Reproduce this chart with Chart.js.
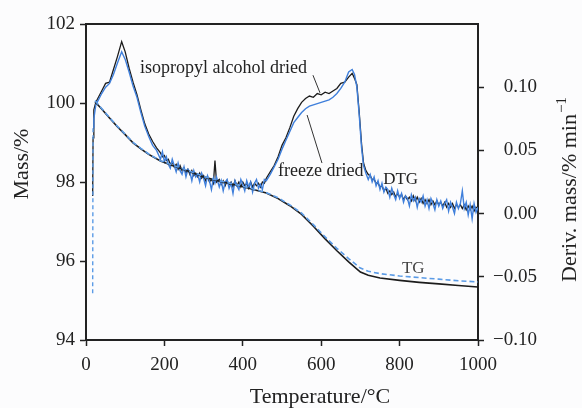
<!DOCTYPE html>
<html>
<head>
<meta charset="utf-8">
<script src="https://cdn.jsdelivr.net/npm/chart.js@4.4.1/dist/chart.umd.min.js"></script>
<style>
  html, body { margin: 0; padding: 0; background: #fcfcfd; }
  #chart { display: block; }
</style>
</head>
<body>
<canvas id="chart" width="582" height="408"></canvas>
<script>
const tempTicks = [0, 200, 400, 600, 800, 1000];
const massTicks = [94, 96, 98, 100, 102];
const derivTicks = [-0.10, -0.05, 0.00, 0.05, 0.10];

// TG curves (mass %)
const tgTemp = [23, 40, 60, 80, 100, 120, 140, 160, 190, 220, 260, 300, 340, 380, 420, 460, 490, 520, 550, 580, 610, 640, 670, 700, 720, 750, 800, 850, 900, 950, 1000];
const tgIpa = [100.03, 99.85, 99.62, 99.40, 99.20, 98.99, 98.84, 98.70, 98.53, 98.42, 98.28, 98.13, 98.02, 97.93, 97.83, 97.72, 97.58, 97.40, 97.18, 96.88, 96.56, 96.26, 95.98, 95.72, 95.64, 95.57, 95.51, 95.46, 95.42, 95.38, 95.34];
const tgFreeze = [100.06, 99.86, 99.63, 99.41, 99.21, 99.00, 98.85, 98.71, 98.54, 98.43, 98.29, 98.14, 98.03, 97.94, 97.84, 97.73, 97.60, 97.42, 97.21, 96.92, 96.61, 96.32, 96.06, 95.82, 95.74, 95.68, 95.62, 95.58, 95.54, 95.50, 95.47];

// DTG curves (% / min), noisy stretches read at 5 degree steps
const dtgTemp = [
  17, 18, 20, 25, 30, 40, 50, 60, 70, 80,
  91, 100, 110, 120, 130, 140, 150, 160, 170, 180,
  190, 195, 200, 205, 210, 215, 220, 225, 230, 235,
  240, 245, 250, 255, 260, 265, 270, 275, 280, 285,
  290, 295, 300, 305, 310, 315, 320, 325, 329, 333,
  340, 345, 350, 355, 360, 365, 370, 375, 380, 385,
  390, 395, 400, 405, 410, 415, 420, 425, 430, 435,
  440, 445, 450, 455, 460, 470, 480, 490, 500, 510,
  520, 530, 540, 550, 560, 570, 580, 590, 600, 610,
  620, 630, 640, 650, 660, 670, 679, 685, 691, 697,
  703, 708, 714, 720, 725, 730, 735, 740, 745, 750,
  755, 760, 765, 770, 775, 780, 785, 790, 795, 800,
  805, 810, 815, 820, 825, 830, 835, 840, 845, 850,
  855, 860, 865, 870, 875, 880, 885, 890, 895, 900,
  905, 910, 915, 920, 925, 930, 935, 940, 945, 950,
  955, 960, 965, 970, 975, 980, 985, 990, 995, 1000
];
const dtgIpa = [
  0.014, 0.060, 0.082, 0.088, 0.091, 0.097, 0.103, 0.104, 0.114, 0.124,
  0.136, 0.128, 0.115, 0.104, 0.094, 0.082, 0.071, 0.063, 0.057, 0.052,
  0.048, 0.045, 0.046, 0.042, 0.043, 0.039, 0.041, 0.037, 0.039, 0.035,
  0.038, 0.034, 0.036, 0.032, 0.035, 0.031, 0.034, 0.030, 0.032, 0.029,
  0.032, 0.028, 0.030, 0.026, 0.029, 0.025, 0.027, 0.024, 0.042, 0.025,
  0.027, 0.023, 0.026, 0.022, 0.026, 0.023, 0.025, 0.021, 0.026, 0.022,
  0.025, 0.021, 0.025, 0.022, 0.024, 0.020, 0.025, 0.021, 0.024, 0.022,
  0.024, 0.021, 0.025, 0.024, 0.028, 0.033, 0.038, 0.045, 0.054, 0.060,
  0.068, 0.077, 0.083, 0.088, 0.091, 0.093, 0.092, 0.095, 0.094, 0.096,
  0.095, 0.097, 0.099, 0.103, 0.104, 0.108, 0.111, 0.107, 0.102, 0.080,
  0.055, 0.040, 0.034, 0.031, 0.030, 0.027, 0.027, 0.024, 0.024, 0.021,
  0.022, 0.018, 0.020, 0.016, 0.018, 0.015, 0.017, 0.013, 0.016, 0.013,
  0.015, 0.011, 0.014, 0.011, 0.013, 0.010, 0.014, 0.010, 0.013, 0.009,
  0.012, 0.008, 0.011, 0.008, 0.011, 0.007, 0.010, 0.007, 0.010, 0.007,
  0.009, 0.006, 0.009, 0.005, 0.008, 0.005, 0.008, 0.004, 0.007, 0.005,
  0.007, 0.004, 0.007, 0.003, 0.006, 0.003, 0.006, 0.002, 0.005, 0.004
];
const dtgFreeze = [
  -0.063, 0.068, 0.075, 0.086, 0.089, 0.095, 0.100, 0.103, 0.110, 0.119,
  0.128, 0.122, 0.112, 0.101, 0.092, 0.080, 0.069, 0.061, 0.054, 0.050,
  0.043, 0.049, 0.041, 0.045, 0.039, 0.036, 0.043, 0.038, 0.033, 0.040,
  0.034, 0.031, 0.037, 0.029, 0.035, 0.033, 0.026, 0.034, 0.029, 0.031,
  0.025, 0.032, 0.028, 0.022, 0.030, 0.026, 0.019, 0.028, 0.024, 0.029,
  0.021, 0.026, 0.018, 0.025, 0.027, 0.020, 0.024, 0.016, 0.026, 0.022,
  0.019, 0.027, 0.023, 0.018, 0.026, 0.021, 0.025, 0.017, 0.024, 0.027,
  0.020, 0.023, 0.019, 0.027, 0.026, 0.031, 0.037, 0.043, 0.051, 0.058,
  0.065, 0.072, 0.076, 0.080, 0.083, 0.085, 0.086, 0.087, 0.088, 0.089,
  0.090, 0.092, 0.095, 0.099, 0.104, 0.112, 0.114, 0.110, 0.100, 0.078,
  0.052, 0.038, 0.032, 0.027, 0.031, 0.025, 0.029, 0.022, 0.026, 0.019,
  0.024, 0.017, 0.021, 0.019, 0.013, 0.020, 0.015, 0.011, 0.018, 0.012,
  0.016, 0.009, 0.014, 0.012, 0.006, 0.015, 0.010, 0.013, 0.005, 0.012,
  0.009, 0.014, 0.006, 0.011, 0.004, 0.012, 0.008, 0.003, 0.011, 0.006,
  0.010, 0.004, 0.008, 0.011, 0.002, 0.009, 0.005, 0.000, 0.009, 0.004,
  0.008, 0.018, 0.004, 0.009, -0.001, 0.007, -0.004, 0.008, 0.001, 0.005
];

const serif = "'Liberation Serif', 'DejaVu Serif', serif";
const ink = "#222";
const black = "#1c1c1c";
const blueTg = "#5b9be6";
const blueDtg = "#3f7fdb";

const points = (xs, ys) => xs.map((x, i) => ({ x, y: ys[i] }));

const fmtDeriv = (value) => {
  if (Math.abs(value) < 1e-9) return "0.00";
  return (value < 0 ? "\u2212" : "") + Math.abs(value).toFixed(2);
};

// frame top, right-axis labels, annotations and axis titles
const annotations = {
  id: "annotations",
  afterDatasetsDraw(chart) {
    const { ctx, chartArea, scales } = chart;
    const x = scales.x;
    const y = scales.y;
    const y2 = scales.y2;

    ctx.save();
    ctx.strokeStyle = ink;
    ctx.lineWidth = 2;
    ctx.beginPath();
    ctx.moveTo(chartArea.left - 1, chartArea.top);
    ctx.lineTo(chartArea.right + 1, chartArea.top);
    ctx.stroke();

    ctx.fillStyle = ink;
    ctx.font = `19px ${serif}`;
    ctx.textAlign = "right";
    ctx.textBaseline = "middle";
    derivTicks.forEach((value) => {
      ctx.fillText(fmtDeriv(value), chartArea.right + 59, y2.getPixelForValue(value));
    });

    ctx.lineWidth = 1;
    ctx.strokeStyle = "#333";
    ctx.beginPath();
    ctx.moveTo(x.getPixelForValue(579), y2.getPixelForValue(0.1095));
    ctx.lineTo(x.getPixelForValue(597), y2.getPixelForValue(0.0955));
    ctx.moveTo(x.getPixelForValue(564), y2.getPixelForValue(0.078));
    ctx.lineTo(x.getPixelForValue(602), y2.getPixelForValue(0.040));
    ctx.stroke();

    ctx.textAlign = "left";
    ctx.font = `18px ${serif}`;
    ctx.fillText("isopropyl alcohol dried", x.getPixelForValue(138), y2.getPixelForValue(0.115));
    ctx.fillText("freeze dried", x.getPixelForValue(490), y2.getPixelForValue(0.0337));
    ctx.font = `17px ${serif}`;
    ctx.fillText("DTG", x.getPixelForValue(758), y2.getPixelForValue(0.0266));
    ctx.fillStyle = "#444";
    ctx.fillText("TG", x.getPixelForValue(806), y.getPixelForValue(95.82));

    ctx.fillStyle = ink;
    ctx.font = `22px ${serif}`;
    ctx.textAlign = "center";
    ctx.fillText("Temperature/\u00b0C", chartArea.left + 234, 397);

    ctx.save();
    ctx.translate(22, 164);
    ctx.rotate(-Math.PI / 2);
    ctx.fillText("Mass/%", 0, 0);
    ctx.restore();

    ctx.save();
    ctx.translate(570, 190);
    ctx.rotate(-Math.PI / 2);
    const main = "Deriv. mass/% min";
    ctx.font = `22px ${serif}`;
    const mainW = ctx.measureText(main).width;
    ctx.font = `15px ${serif}`;
    const supW = ctx.measureText("\u22121").width;
    const start = -(mainW + supW) / 2;
    ctx.textAlign = "left";
    ctx.font = `22px ${serif}`;
    ctx.fillText(main, start, 0);
    ctx.font = `15px ${serif}`;
    ctx.fillText("\u22121", start + mainW + 1, -8);
    ctx.restore();

    ctx.restore();
  }
};

const axisGrid = {
  drawOnChartArea: false,
  drawTicks: true,
  tickLength: 6,
  tickWidth: 1.5,
  color: ink
};

new Chart(document.querySelector("#chart"), {
  type: "line",
  data: {
    datasets: [
      {
        label: "TG freeze dried",
        data: points(tgTemp, tgFreeze),
        yAxisID: "y",
        borderColor: blueTg,
        borderWidth: 1.6,
        borderDash: [5, 3]
      },
      {
        label: "TG isopropyl alcohol dried",
        data: points(tgTemp, tgIpa),
        yAxisID: "y",
        borderColor: black,
        borderWidth: 1.6
      },
      {
        label: "DTG freeze dried",
        data: points(dtgTemp, dtgFreeze),
        yAxisID: "y2",
        borderColor: blueDtg,
        borderWidth: 1.4,
        segment: {
          borderColor: (ctx) => (ctx.p0DataIndex === 0 ? blueTg : undefined),
          borderDash: (ctx) => (ctx.p0DataIndex === 0 ? [4, 3] : undefined)
        }
      },
      {
        label: "DTG isopropyl alcohol dried",
        data: points(dtgTemp, dtgIpa),
        yAxisID: "y2",
        borderColor: black,
        borderWidth: 1.3
      }
    ]
  },
  options: {
    responsive: false,
    animation: false,
    elements: {
      point: { radius: 0 },
      line: { tension: 0, fill: false }
    },
    layout: { padding: { top: 24, left: 0, right: 0, bottom: 0 } },
    plugins: {
      legend: { display: false },
      tooltip: { enabled: false }
    },
    scales: {
      x: {
        type: "linear",
        min: 0,
        max: 1000,
        afterBuildTicks: (scale) => { scale.ticks = tempTicks.map((value) => ({ value })); },
        ticks: { color: ink, font: { family: serif, size: 19 }, padding: 8, maxRotation: 0, callback: (value) => String(value) },
        grid: axisGrid,
        border: { display: true, color: ink, width: 2 },
        afterFit: (scale) => { scale.height = 68; }
      },
      y: {
        position: "left",
        min: 94,
        max: 102,
        afterBuildTicks: (scale) => { scale.ticks = massTicks.map((value) => ({ value })); },
        ticks: { color: ink, font: { family: serif, size: 19 }, padding: 5 },
        grid: axisGrid,
        border: { display: true, color: ink, width: 2 },
        afterFit: (scale) => { scale.width = 86; }
      },
      y2: {
        position: "right",
        min: -0.10,
        max: 0.15,
        afterBuildTicks: (scale) => { scale.ticks = derivTicks.map((value) => ({ value })); },
        ticks: { display: false },
        grid: axisGrid,
        border: { display: true, color: ink, width: 2 },
        afterFit: (scale) => { scale.width = 104; }
      }
    }
  },
  plugins: [annotations]
});
</script>
</body>
</html>
